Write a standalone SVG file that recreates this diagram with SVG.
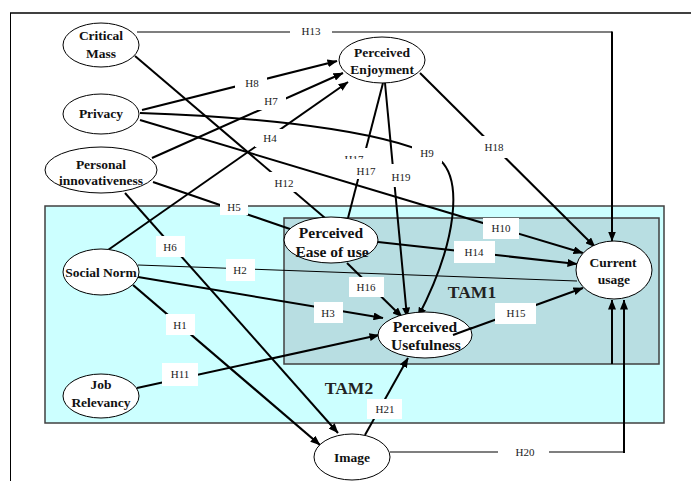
<svg xmlns="http://www.w3.org/2000/svg" width="691" height="481" viewBox="0 0 691 481">
<defs>
<marker id="ah" markerUnits="userSpaceOnUse" markerWidth="10" markerHeight="8" refX="9.5" refY="4" orient="auto">
<path d="M0,0 L10,4 L0,8 z" fill="#000"/>
</marker>
<style>
.n{fill:#fff;stroke:#000;stroke-width:1}
.t{font-family:"Liberation Serif","Times New Roman",serif;font-weight:bold;font-size:13.5px;fill:#111;text-anchor:middle}
.tb{font-size:15.5px}
.c{fill:none;stroke:#000;stroke-width:2}
.a{marker-end:url(#ah)}
.thin{stroke-width:1.2}
.hair{stroke-width:1}
.lb{fill:#fff}
.lt{font-family:"Liberation Serif","Times New Roman",serif;font-size:11px;fill:#222;text-anchor:middle}
.tam{font-family:"Liberation Serif","Times New Roman",serif;font-weight:bold;font-size:17.5px;fill:#222;text-anchor:middle}
</style>
</defs>
<rect x="0" y="0" width="691" height="481" fill="#fff"/>
<line x1="10" y1="13" x2="691" y2="13" stroke="#404040" stroke-width="2"/>
<line x1="10.5" y1="13" x2="10.5" y2="481" stroke="#000" stroke-width="1"/>
<g id="tam2">
<rect x="45" y="206" width="619" height="217" fill="#ccffff" stroke="#404040" stroke-width="1.5"/>
<text class="tam" x="349" y="394">TAM2</text>
</g>
<g id="tam1">
<rect x="284" y="218" width="375" height="146" fill="#b8dee2" stroke="#404040" stroke-width="1.5"/>
<text class="tam" x="472" y="298">TAM1</text>
</g>
<g id="connectors">
<path class="c thin" d="M137,32 H612"/>
<path class="c a" d="M612,31.5 V241"/>
<path class="c" d="M135,56 L325,218"/>
<path class="c a" d="M142,110 L337,61"/>
<path class="c a" d="M152,158 L343,73"/>
<path class="c a" d="M108,250 L348,82"/>
<path class="c a" d="M140,113 C290,118 400,135 440,160 C462,180 458,240 418,317"/>
<path class="c a" d="M140,120 L583,253"/>
<path class="c" d="M153,182 L290,229"/>
<path class="c a" d="M125,193 L338,433"/>
<path class="c hair" d="M138,265 L577,281"/>
<path class="c a" d="M138,277 L383,318"/>
<path class="c a" style="stroke-width:2.3" d="M133,285 L320,445"/>
<path class="c a" d="M137,388 L379,335"/>
<path class="c a" d="M347,263 L402,317"/>
<path class="c" d="M383,83 L348,218"/>
<path class="c a" d="M385,83 L407,317"/>
<path class="c a" d="M420,73 L595,247"/>
<path class="c a" d="M378,242 L577,264"/>
<path class="c a" d="M453,335 L583,288"/>
<path class="c thin" d="M390,452 H624"/>
<path class="c a" d="M624,453 V300"/>
<path class="c a" d="M612,364 V300"/>
<path class="c a" d="M365,435 L408,358"/>
</g>
<g id="labels">
<rect class="lb" x="290" y="24" width="42" height="16"/><text class="lt" x="311" y="35">H13</text>
<rect class="lb" x="235" y="75" width="32" height="17"/><text class="lt" x="252" y="87">H8</text>
<rect class="lb" x="256" y="93" width="30" height="17"/><text class="lt" x="271" y="105">H7</text>
<rect class="lb" x="255" y="129" width="30" height="18"/><text class="lt" x="270" y="142">H4</text>
<rect class="lb" x="267" y="172" width="34" height="20"/><text class="lt" x="284" y="187">H12</text>
<rect class="lb" x="220" y="199" width="28" height="16"/><text class="lt" x="234" y="211">H5</text>
<rect class="lb" x="156" y="236" width="29" height="21"/><text class="lt" x="170" y="251">H6</text>
<rect class="lb" x="226" y="259" width="29" height="22"/><text class="lt" x="240" y="274">H2</text>
<rect class="lb" x="314" y="302" width="29" height="21"/><text class="lt" x="328" y="317">H3</text>
<rect class="lb" x="166" y="314" width="29" height="21"/><text class="lt" x="180" y="329">H1</text>
<rect class="lb" x="162" y="363" width="36" height="23"/><text class="lt" x="180" y="378">H11</text>
<rect class="lb" x="349" y="277" width="35" height="20"/><text class="lt" x="366" y="291">H16</text>
<rect class="lb" x="483" y="218" width="36" height="21"/><text class="lt" x="501" y="232">H10</text>
<rect class="lb" x="454" y="241" width="41" height="22"/><text class="lt" x="474" y="256">H14</text>
<rect class="lb" x="495" y="303" width="41" height="21"/><text class="lt" x="516" y="317">H15</text>
<rect class="lb" x="367" y="399" width="35" height="20"/><text class="lt" x="385" y="413">H21</text>
<rect class="lb" x="498" y="445" width="51" height="15"/><text class="lt" x="525" y="456">H20</text>
<rect class="lb" x="412" y="145" width="30" height="18"/><text class="lt" x="427" y="157">H9</text>
<rect class="lb" x="480" y="136" width="28" height="22"/><text class="lt" x="494" y="151">H18</text>
<rect class="lb" x="342" y="148" width="26" height="12"/><text class="lt" x="354" y="163">H17</text>
<rect class="lb" x="343" y="159" width="40" height="20"/><text class="lt" x="366" y="175">H17</text>
<rect class="lb" x="388" y="164" width="27" height="23"/><text class="lt" x="401" y="181">H19</text>
</g>
<g id="critical-mass"><ellipse class="n" cx="101" cy="45" rx="38" ry="22"/><text class="t" x="101" y="40">Critical</text><text class="t" x="101" y="58">Mass</text></g>
<g id="privacy"><ellipse class="n" cx="101" cy="114" rx="38" ry="20"/><text class="t" x="101" y="118">Privacy</text></g>
<g id="personal-innovativeness"><ellipse class="n" cx="101" cy="170" rx="56" ry="23"/><text class="t" x="101" y="169">Personal</text><text class="t" x="101" y="185">innovativeness</text></g>
<g id="perceived-enjoyment"><ellipse class="n" cx="382" cy="60" rx="43" ry="23"/><text class="t" x="382" y="57">Perceived</text><text class="t" x="382" y="74">Enjoyment</text></g>
<g id="social-norm"><ellipse class="n" cx="101" cy="272" rx="38" ry="23"/><text class="t" x="101" y="277">Social Norm</text></g>
<g id="job-relevancy"><ellipse class="n" cx="101" cy="396" rx="38" ry="22"/><text class="t" x="101" y="389">Job</text><text class="t" x="101" y="407">Relevancy</text></g>
<g id="image"><ellipse class="n" cx="352" cy="457" rx="38" ry="23"/><text class="t" x="352" y="462">Image</text></g>
<g id="perceived-ease-of-use"><ellipse class="n" cx="331" cy="240" rx="47" ry="23"/><text class="t tb" x="331" y="238">Perceived</text><text class="t tb" x="332" y="257">Ease of use</text></g>
<g id="perceived-usefulness"><ellipse class="n" cx="425" cy="335" rx="47" ry="23"/><text class="t tb" x="425" y="332">Perceived</text><text class="t tb" x="426" y="350">Usefulness</text></g>
<g id="connector-h15-start"><path class="c" d="M453,335 L472,328"/></g>
<g id="current-usage"><ellipse class="n" cx="614" cy="270" rx="38" ry="29"/><text class="t" x="613" y="267">Current</text><text class="t" x="614" y="284">usage</text></g>
</svg>
